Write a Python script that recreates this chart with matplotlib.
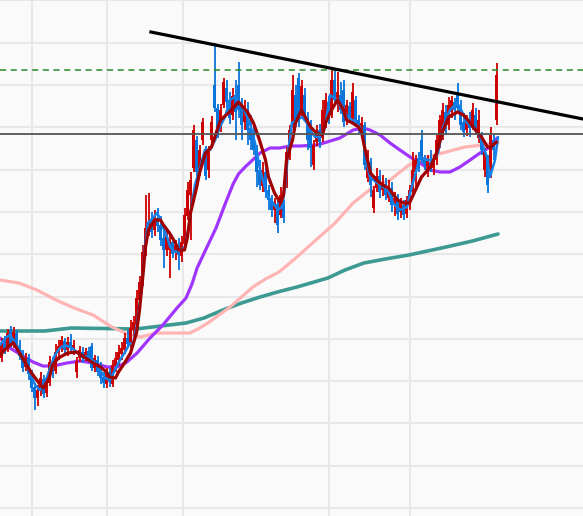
import numpy as np
import matplotlib.pyplot as plt

# daily candles (price units, no axis labels on the chart)
opens = [162, 177, 172, 190, 176, 187, 173, 165, 153, 162,
         146, 133, 122, 129, 141, 127, 137, 157, 149, 168,
         173, 179, 170, 178, 171, 148, 162, 168, 163, 169,
         174, 152, 160, 150, 143, 136, 148, 136, 154, 160,
         166, 170, 182, 175, 190, 195, 220, 238, 270, 290,
         298, 290, 302, 295, 282, 270, 270, 278, 268, 274,
         264, 276, 304, 325, 352, 380, 350, 380, 370, 350,
         380, 435, 412, 392, 415, 432, 420, 405, 425, 435,
         415, 398, 410, 392, 385, 370, 350, 334, 348, 330,
         320, 310, 316, 305, 315, 335, 365, 395, 425, 442,
         408, 425, 402, 392, 355, 378, 390, 382, 395, 418,
         405, 440, 422, 425, 430, 400, 414, 402, 420, 400,
         392, 395, 342, 358, 312, 332, 344, 330, 336, 322,
         332, 316, 322, 308, 315, 306, 320, 328, 348, 362,
         380, 360, 348, 358, 352, 360, 375, 390, 408, 395,
         408, 418, 425, 412, 398, 390, 398, 392, 405, 382,
         380, 350, 360, 345, 380, 400]
closes = [177, 170, 187, 176, 188, 173, 164, 152, 163, 146,
          132, 122, 130, 142, 126, 138, 158, 148, 168, 174,
          180, 170, 178, 172, 175, 159, 170, 162, 168, 162,
          152, 162, 148, 142, 137, 148, 138, 155, 162, 168,
          172, 182, 176, 192, 198, 222, 238, 268, 292, 298,
          288, 302, 294, 280, 270, 284, 280, 266, 275, 265,
          278, 305, 330, 340, 390, 348, 370, 398, 344, 370,
          398, 412, 388, 410, 438, 418, 402, 424, 408, 410,
          395, 412, 390, 380, 370, 348, 335, 350, 328, 320,
          310, 318, 295, 325, 302, 368, 390, 430, 398, 402,
          434, 405, 380, 372, 375, 390, 378, 410, 420, 402,
          440, 420, 428, 410, 398, 415, 402, 428, 400, 392,
          397, 355, 360, 335, 330, 344, 328, 338, 325, 334,
          315, 322, 306, 317, 305, 320, 330, 350, 360, 352,
          360, 355, 360, 352, 360, 380, 400, 410, 395, 415,
          420, 410, 412, 395, 388, 400, 392, 410, 392, 400,
          370, 368, 335, 385, 370, 445]
highs = [182, 184, 191, 194, 193, 190, 180, 170, 167, 166,
         150, 137, 135, 148, 145, 144, 164, 163, 176, 180,
         184, 182, 183, 186, 180, 163, 174, 173, 172, 173,
         177, 165, 164, 158, 148, 152, 152, 160, 168, 175,
         178, 187, 190, 200, 204, 230, 244, 275, 325, 327,
         308, 310, 312, 304, 290, 290, 286, 282, 280, 282,
         284, 312, 338, 348, 395, 384, 375, 402, 374, 374,
         404, 477, 416, 416, 442, 440, 428, 432, 440, 458,
         422, 420, 418, 405, 395, 375, 360, 358, 352, 335,
         325, 322, 320, 333, 320, 373, 395, 445, 435, 447,
         440, 432, 408, 400, 380, 395, 396, 420, 427, 424,
         450, 450, 448, 438, 440, 420, 418, 437, 424, 405,
         403, 398, 370, 362, 334, 352, 350, 345, 342, 340,
         338, 328, 326, 322, 320, 324, 335, 368, 365, 368,
         390, 365, 365, 370, 365, 385, 405, 417, 415, 423,
         424, 422, 437, 420, 407, 405, 408, 417, 412, 410,
         388, 372, 365, 393, 385, 457]
lows = [158, 166, 168, 173, 172, 169, 160, 148, 149, 140,
        128, 110, 114, 124, 122, 123, 134, 142, 146, 160,
        168, 166, 164, 168, 165, 142, 158, 157, 159, 158,
        149, 148, 144, 136, 132, 132, 133, 133, 148, 154,
        160, 166, 172, 172, 184, 192, 214, 234, 264, 284,
        282, 284, 288, 274, 252, 264, 242, 262, 260, 250,
        258, 272, 300, 280, 348, 344, 344, 375, 340, 342,
        376, 408, 382, 388, 412, 412, 396, 400, 380, 402,
        380, 390, 375, 370, 365, 333, 330, 328, 322, 310,
        303, 297, 287, 302, 297, 332, 360, 392, 393, 393,
        404, 400, 370, 353, 350, 374, 372, 378, 392, 396,
        402, 416, 408, 406, 393, 395, 398, 398, 395, 387,
        386, 350, 338, 323, 307, 328, 322, 324, 320, 318,
        308, 304, 300, 302, 300, 302, 310, 324, 332, 348,
        357, 350, 343, 348, 345, 355, 372, 380, 385, 390,
        402, 400, 408, 390, 383, 384, 383, 390, 385, 377,
        365, 343, 327, 342, 360, 395]

# moving averages (bar index, price)
fast_x = [-0.5, 1.2, 2.8, 4.5, 6.2, 7.8, 9.5, 11.2, 12.8, 14.5, 16.2, 17.8, 19.5, 21.2,
          23.5, 26.2, 28.8, 31.2, 32.8, 34.5, 36.2, 37.8, 39.5, 41.2, 42.8, 43.8, 45.2,
          46.8, 47.8, 48.8, 50.5, 51.8, 52.8, 53.8, 55.2, 56.2, 57.8, 59.5, 61.2, 62.2,
          63.5, 64.5, 66.2, 67.8, 69.5, 71.2, 72.8, 74.5, 76.2, 77.8, 79.5, 81.2, 82.8,
          84.5, 86.2, 88.5, 90.5, 92.2, 93.5, 94.5, 95.5, 96.8, 98.5, 100.2, 101.8, 103.5,
          104.5, 106.2, 107.8, 109.5, 111.8, 113.5, 115.5, 117.8, 119.5, 120.5, 121.8,
          122.8, 125.2, 127.2, 128.8, 130.5, 132.8, 135.2, 136.2, 139.5, 141.8, 143.8,
          145.5, 147.2, 149.5, 151.8, 152.8, 155.2, 157.2, 159.5, 161.8, 162.8, 164.5, 165.5]
fast_y = [175, 182, 185, 178, 170, 158, 148, 135, 130, 137, 152, 165, 172, 175,
          172, 165, 163, 158, 150, 142, 140, 150, 160, 168, 177, 175, 197,
          233, 273, 297, 302, 307, 302, 293, 283, 273, 268, 270, 273, 290,
          317, 335, 353, 370, 370, 380, 393, 403, 420, 423, 417, 408, 397,
          377, 350, 325, 317, 310, 313, 333, 367, 397, 400, 403, 397, 387,
          383, 383, 393, 425, 420, 410, 403, 398, 393, 383, 357,
          343, 337, 333, 330, 317, 310, 313, 327, 363, 360, 360,
          367, 393, 410, 417, 413, 397, 393, 383, 363, 343, 360, 383]

ma10_x = [-0.5, 2, 4, 6, 8, 10, 13, 14, 16, 17, 19, 22, 25, 28, 30, 33, 35, 36, 38, 39,
          41, 43, 45, 46, 47, 48, 49, 51, 53, 54, 56, 58, 59, 61, 62, 63, 65, 66, 68,
          70, 73, 76, 79, 82, 84, 86, 88, 89, 91, 93, 94, 95, 97, 98, 100, 103, 105,
          107, 108, 110, 112, 114, 115, 117, 119, 120, 121, 122, 123, 125, 127, 129,
          132, 134, 136, 138, 140, 143, 145, 147, 149, 152, 154, 156, 158, 160, 162,
          163, 165]
ma10_y = [165, 173, 177, 167, 157, 147, 135, 132, 143, 155, 162, 167, 168, 162, 158, 153,
          148, 143, 142, 148, 157, 167, 187, 210, 240, 273, 290, 300, 300, 295, 287, 277,
          270, 270, 283, 307, 332, 347, 367, 373, 400, 408, 418, 408, 397, 380, 360, 343,
          327, 317, 325, 360, 380, 397, 410, 393, 387, 385, 397, 410, 420, 410, 400, 397,
          393, 388, 373, 360, 347, 340, 335, 332, 320, 317, 317, 330, 343, 353, 367, 388,
          403, 408, 405, 398, 390, 383, 373, 373, 378]

ma25_x = [-0.5, 2.8, 7.2, 10.5, 13.8, 17.2, 21.8, 26.2, 30.5, 35.2, 38.5, 41.8, 45.2,
          49.5, 53.8, 58.5, 61.5, 63.5, 65.2, 68.5, 71.5, 74.8, 77.2, 79.0, 81.2, 86.2,
          89.5, 92.8, 96.2, 99.5, 105.2, 108.5, 112.8, 117.2, 120.5, 122.8, 126.2,
          129.5, 132.8, 136.2, 139.5, 142.8, 146.2, 149.5, 152.8, 156.2, 159.5, 162.8, 165.2]
ma25_y = [182, 172, 164, 158, 154, 154, 157, 159, 157, 153, 153, 158, 167,
          182, 195, 212, 222, 236, 252, 273, 292, 318, 336, 346, 353, 367,
          372, 372, 374, 374, 375, 378, 382, 390, 392, 390, 385,
          377, 370, 363, 357, 350, 348, 348, 353, 360, 367, 373, 382]

ma75_x = [-0.5, 5.8, 11.8, 18.2, 24.2, 30.5, 36.8, 42.8, 46.5, 51.5, 62.8, 65.5, 68.8,
          76.2, 83.8, 88.0, 92.5, 98.5, 104.8, 111.2, 117.2, 123.5, 129.5, 135.8, 142.2,
          148.2, 154.5, 160.5, 165.5]
ma75_y = [240, 237, 230, 220, 212, 205, 193, 185, 183, 187, 187, 191, 197,
          213, 233, 241, 248, 263, 280, 297, 317, 332, 340, 355, 363,
          368, 373, 375, 377]

ma200_x = [-0.5, 14.5, 23.2, 44.8, 61.5, 67.5, 73.8, 80.0, 86.2, 92.0, 98.5, 108.8,
           114.5, 120.8, 128.0, 135.8, 148.2, 157.0, 165.5]
ma200_y = [189, 189, 192, 191, 197, 202, 210, 217, 223, 228, 233, 242,
           250, 257, 261, 265, 273, 279, 286]

support_level = 386
resistance_level = 450
trend_x = [49.8, 193.8]
trend_y = [488, 401]

grid_x = [10, 35, 60.5, 109, 136]

opens = np.array(opens)
closes = np.array(closes)
highs = np.array(highs)
lows = np.array(lows)
x = np.arange(len(closes))

fig = plt.figure(figsize=(5.83, 5.16), dpi=100)
ax = fig.add_axes([0, 0, 1, 1])
ax.set_facecolor('#fafafa')

line_kw = dict(solid_joinstyle='round', solid_capstyle='round')

# long averages under the candles
ax.plot(ma200_x, ma200_y, color='#3d9a93', lw=2.6, zorder=2, **line_kw)
ax.plot(ma75_x, ma75_y, color='#ffb4b4', lw=2.3, zorder=2, **line_kw)
ax.plot(ma25_x, ma25_y, color='#a035ff', lw=2.3, zorder=2, **line_kw)

# candles: red = up, blue = down
colors = np.where(closes >= opens, '#cc0000', '#0a74da')
ax.vlines(x, lows, highs, colors=colors, lw=1.3, zorder=3)
ax.bar(x, closes - opens, bottom=opens, width=0.9, color=colors, zorder=3)

ax.plot(fast_x, fast_y, color='#1580e8', lw=1.8, zorder=4, **line_kw)
ax.plot(ma10_x, ma10_y, color='#a00000', lw=2.3, zorder=5, **line_kw)

ax.axhline(support_level, color='#555555', lw=1.3, zorder=6)
ax.axhline(resistance_level, color='#2a8a2a', lw=1.1, ls=(0, (4, 3)), zorder=6)
ax.plot(trend_x, trend_y, color='black', lw=2.3, zorder=7)

ax.set_xlim(-0.5, 193.83)
ax.set_ylim(4, 520)
ax.set_xticks(grid_x)
ax.set_yticks(np.arange(12, 520, 42.3))
ax.grid(color='#e8e8e8', lw=1.5, zorder=0)
ax.set_axisbelow(True)
ax.tick_params(length=0, labelbottom=False, labelleft=False)
for s in ax.spines.values():
    s.set_visible(False)

fig.savefig('out.png', dpi=100)
